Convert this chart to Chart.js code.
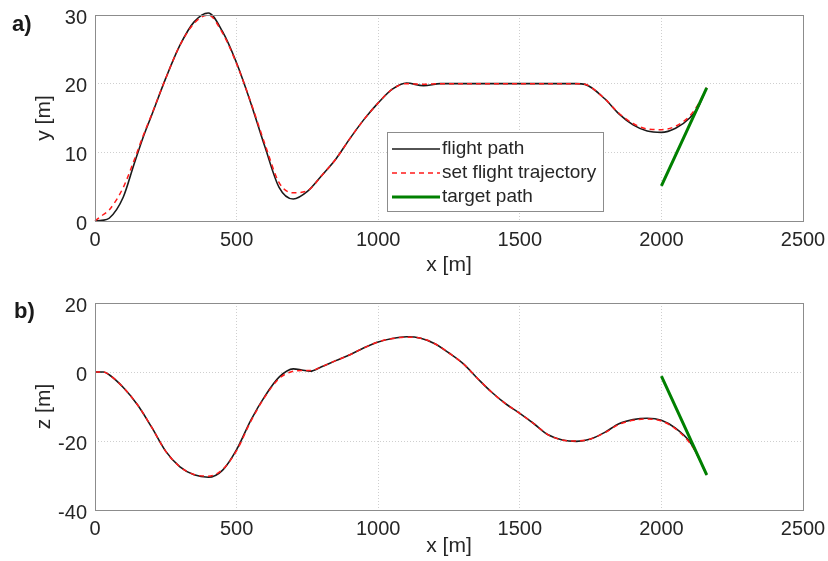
<!DOCTYPE html>
<html>
<head>
<meta charset="utf-8">
<script src="https://cdn.jsdelivr.net/npm/chart.js@4.4.1/dist/chart.umd.min.js"></script>
<style>
    body { margin: 0; background: #fff; }
    #wrap { position: relative; width: 828px; height: 561px; }
    .panel { position: absolute; left: 0; }
    .tag { position: absolute; font: bold 22px "Liberation Sans", Arial, sans-serif; color: #1a1a1a; }
</style>
</head>
<body>
<div id="wrap">
    <canvas id="chartA" class="panel" width="828" height="280" style="top:0"></canvas>
    <canvas id="chartB" class="panel" width="828" height="281" style="top:280px"></canvas>
    <div class="tag" style="left:12px; top:11px">a)</div>
    <div class="tag" style="left:14px; top:298px">b)</div>
</div>
<script>
// a) horizontal plane, y over x
const xTop = [0, 25, 50, 100, 135, 170, 200, 250, 300, 350, 400, 450, 500, 550, 600, 650, 700, 750, 800, 850, 900, 950, 1000, 1050, 1100, 1160, 1220, 1300, 1400, 1500, 1600, 1700, 1730, 1800, 1850, 1900, 1950, 2000, 2050, 2100, 2130, 2160];
const yFlight = [0, 0.1, 0.4, 3.5, 7.9, 12.2, 15.4, 20.8, 25.6, 29, 30.3, 27.6, 23, 17.2, 10.8, 4.9, 3.2, 4.3, 6.6, 9, 12, 14.8, 17.2, 19.2, 20.1, 19.7, 20, 20, 20, 20, 20, 20, 19.9, 17.8, 15.6, 14, 13.1, 12.9, 13.5, 15, 16.6, 19.4];
const ySet = [0, 0.8, 1.6, 4.9, 8.5, 12.4, 15.5, 20.8, 25.6, 28.8, 30, 27.4, 22.9, 17.3, 11.2, 5.6, 4.1, 4.4, 6.6, 9, 12, 14.8, 17.2, 19.2, 20, 19.9, 20, 20, 20, 20, 20, 20, 19.9, 17.8, 15.7, 14.2, 13.4, 13.3, 13.8, 15.3, 17, 19.4];
const xTargetTop = [2000, 2160];
const yTarget = [5.1, 19.4];

// b) vertical plane, z over x
const xBottom = [0, 30, 50, 100, 150, 200, 250, 300, 350, 400, 450, 500, 550, 600, 650, 700, 730, 760, 800, 850, 900, 950, 1000, 1050, 1100, 1150, 1200, 1250, 1300, 1350, 1400, 1450, 1500, 1550, 1600, 1650, 1700, 1750, 1800, 1850, 1900, 1950, 2000, 2050, 2100, 2130, 2160];
const zFlight = [0, 0, -0.8, -4.5, -9.5, -16, -23, -27.5, -29.8, -30.5, -28.5, -22.5, -14, -7, -1.5, 0.9, 0.6, 0.2, 1.5, 3.3, 5, 7, 8.7, 9.7, 10.2, 9.8, 8.2, 5.5, 2.4, -1.8, -5.8, -9.2, -12, -15, -18.2, -19.7, -20.1, -19.4, -17.5, -15, -13.8, -13.4, -14, -16.3, -20.2, -24.5, -29.9];
const zSet = [0, 0, -0.8, -4.5, -9.5, -16, -23, -27.5, -29.7, -30.2, -28.3, -22.8, -14.3, -7.2, -1.9, 0.2, 0.4, 0.4, 1.5, 3.3, 5, 7, 8.7, 9.7, 10.1, 9.8, 8.2, 5.5, 2.4, -1.8, -5.8, -9.2, -12, -15, -18.2, -19.7, -20, -19.4, -17.6, -15.2, -14, -13.6, -14.2, -16.5, -20.5, -24.5, -29.9];
const xTargetBottom = [2000, 2160];
const zTarget = [-1.2, -29.8];

const xTicks = [0, 500, 1000, 1500, 2000, 2500];
const legendLabels = ['flight path', 'set flight trajectory', 'target path'];

const FONT = '"Liberation Sans", Arial, sans-serif';
const TEXT = '#262626';

function toPoints(xs, ys) {
    return xs.map((x, i) => ({ x, y: ys[i] }));
}

function lineDataset(label, xs, ys, color, width, dash, order) {
    return {
        label,
        data: toPoints(xs, ys),
        borderColor: color,
        backgroundColor: color,
        borderWidth: width,
        borderDash: dash || [],
        showLine: true,
        pointRadius: 0,
        cubicInterpolationMode: 'monotone',
        clip: false,
        fill: false,
        order
    };
}

// box round the plot area, like the matlab axes
const framePlugin = {
    id: 'frame',
    afterDatasetsDraw(chart) {
        const { ctx, chartArea: a } = chart;
        ctx.save();
        ctx.strokeStyle = '#8c8c8c';
        ctx.lineWidth = 1;
        ctx.strokeRect(Math.round(a.left) + 0.5, Math.round(a.top) + 0.5, Math.round(a.right - a.left), Math.round(a.bottom - a.top));
        ctx.restore();
    }
};

// legend box inside the plot, only on panel a)
const boxLegendPlugin = {
    id: 'boxLegend',
    afterDraw(chart, args, opts) {
        if (!opts.show) return;
        const { ctx } = chart;
        const x = 387, y = 132, w = 216, h = 79;
        ctx.save();
        ctx.fillStyle = '#fff';
        ctx.fillRect(x, y, w, h);
        ctx.strokeStyle = '#8c8c8c';
        ctx.lineWidth = 1;
        ctx.strokeRect(x + 0.5, y + 0.5, w, h);
        ctx.font = '19px ' + FONT;
        ctx.textBaseline = 'middle';
        ctx.fillStyle = TEXT;
        legendLabels.forEach((label, i) => {
            const ds = chart.data.datasets.find(d => d.label === label);
            const cy = y + 17 + i * 24;
            ctx.save();
            ctx.strokeStyle = ds.borderColor;
            ctx.lineWidth = ds.borderWidth;
            ctx.setLineDash(ds.borderDash);
            ctx.beginPath();
            ctx.moveTo(x + 5, cy);
            ctx.lineTo(x + 53, cy);
            ctx.stroke();
            ctx.restore();
            ctx.fillText(label, x + 55, cy);
        });
        ctx.restore();
    }
};

function makePanel(id, datasets, yMin, yMax, yStep, yTitle, pad, xHeight, withLegend) {
    const ctx = document.getElementById(id).getContext('2d');
    return new Chart(ctx, {
        type: 'scatter',
        data: { datasets },
        options: {
            responsive: false,
            devicePixelRatio: 1,
            animation: false,
            layout: { padding: pad },
            plugins: {
                legend: { display: false },
                tooltip: { enabled: false },
                boxLegend: { show: withLegend }
            },
            scales: {
                x: {
                    type: 'linear',
                    min: 0,
                    max: 2500,
                    afterBuildTicks: s => { s.ticks = xTicks.map(v => ({ value: v })); },
                    afterFit: s => {
                        s.height = xHeight;
                        s.paddingLeft = 0;
                        s.paddingRight = 0;
                    },
                    ticks: { font: { family: FONT, size: 20 }, color: TEXT, padding: 7, callback: v => String(v) },
                    grid: { color: '#cfcfcf', lineWidth: 1, drawTicks: false },
                    border: { display: false, dash: [1, 2] },
                    title: {
                        display: true,
                        text: 'x [m]',
                        color: TEXT,
                        font: { family: FONT, size: 21, lineHeight: 1 },
                        padding: { top: 0, bottom: 4 }
                    }
                },
                y: {
                    min: yMin,
                    max: yMax,
                    afterFit: s => {
                        s.width = 95;
                        s.paddingTop = 0;
                        s.paddingBottom = 0;
                    },
                    ticks: { stepSize: yStep, font: { family: FONT, size: 20 }, color: TEXT, padding: 8, labelOffset: 3, callback: v => String(v) },
                    grid: { color: '#cfcfcf', lineWidth: 1, drawTicks: false },
                    border: { display: false, dash: [1, 2] },
                    title: {
                        display: true,
                        text: yTitle,
                        color: TEXT,
                        font: { family: FONT, size: 21, lineHeight: 1 },
                        padding: { top: 34, bottom: 0 }
                    }
                }
            }
        },
        plugins: [framePlugin, boxLegendPlugin]
    });
}

// lower order is painted on top, so the dashed set trajectory sits over the flight path
function panelDatasets(xs, flight, set, xt, target) {
    return [
        lineDataset(legendLabels[0], xs, flight, '#1a1a1a', 1.6, null, 2),
        lineDataset(legendLabels[1], xs, set, '#ff1a1a', 1.5, [5, 4], 1),
        lineDataset(legendLabels[2], xt, target, '#008000', 3, null, 0)
    ];
}

makePanel('chartA', panelDatasets(xTop, yFlight, ySet, xTargetTop, yTarget),
    0, 30, 10, 'y [m]', { left: 0, right: 25, top: 15, bottom: 0 }, 59, true);

makePanel('chartB', panelDatasets(xBottom, zFlight, zSet, xTargetBottom, zTarget),
    -40, 20, 20, 'z [m]', { left: 0, right: 25, top: 23, bottom: 0 }, 51, false);
</script>
</body>
</html>
